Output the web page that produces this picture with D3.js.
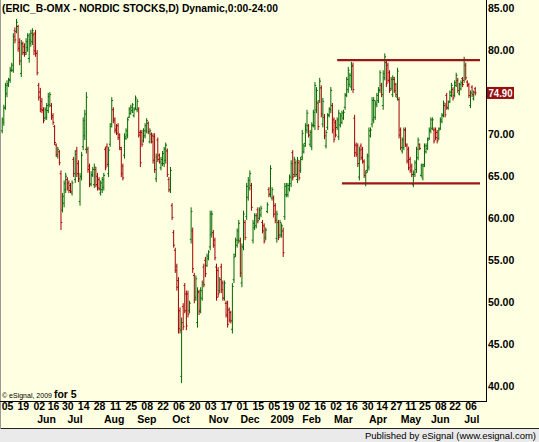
<!DOCTYPE html>
<html><head><meta charset="utf-8">
<script src="https://cdn.jsdelivr.net/npm/d3@7"></script>
<style>
html,body{margin:0;padding:0;background:#fff;}
svg{display:block;}
</style></head><body>
<svg id="chart" width="539" height="442"></svg>
<script>
// ---------------- DATA ----------------
const title = "(ERIC_B-OMX - NORDIC STOCKS,D) Dynamic,0:00-24:00";
// trading-day index of the first bar (05 May 2008 = day 0)
const firstDay = -3;

const open = [
70.4,71.4,73.2,74.8,75.8,76.4,77.6,77.6,82.3,82.2,
82.8,80.9,77.2,80.7,80.4,79.7,80.3,79.0,80.8,81.0,
81.8,82.0,79.6,75.8,75.0,73.9,72.9,71.9,72.0,72.8,
73.5,73.4,72.2,70.9,68.7,67.4,67.9,65.3,61.0,61.8,
63.4,64.6,64.2,63.9,63.0,67.0,64.6,68.0,66.5,62.0,
64.9,68.5,69.8,68.2,68.2,66.2,64.1,65.1,64.0,65.8,
65.0,64.6,63.0,63.4,63.7,68.2,68.5,65.3,68.8,71.2,
72.9,71.8,70.6,71.0,69.9,68.2,66.2,
67.5,69.5,69.9,72.0,72.5,72.8,72.2,73.1,72.9,73.0,
70.2,70.2,69.2,69.8,70.4,71.3,69.1,70.0,69.8,69.7,
64.7,69.3,67.5,66.0,66.5,66.5,66.9,68.0,64.6,63.4,
61.5,58.3,56.2,54.3,52.6,49.0,41.2,49.5,52.0,51.0,
51.0,49.0,57.5,58.5,53.2,50.6,47.6,51.2,49.1,50.5,
54.2,55.0,54.4,55.2,56.6,58.1,58.3,57.4,54.2,53.8,
51.4,54.2,52.3,50.5,49.9,49.9,49.1,48.8,46.8,52.7,
55.7,56.8,57.4,57.3,52.3,56.6,59.5,60.2,62.5,63.6,
63.9,57.4,58.9,59.1,61.0,
60.0,60.4,59.5,59.1,57.7,60.8,63.4,62.9,62.4,62.4,
61.5,57.6,59.5,58.0,58.0,58.5,60.2,62.8,62.8,63.5,
64.1,67.8,65.2,66.6,64.6,66.6,65.7,67.3,67.9,68.9,
70.5,71.0,68.8,68.5,71.1,71.0,72.9,73.7,74.0,75.5,
71.2,72.0,68.6,70.8,72.3,72.9,73.4,71.7,71.4,70.8,
69.7,71.1,71.4,71.9,73.2,74.7,75.3,75.9,75.6,78.1,
71.9,68.7,68.6,64.9,68.6,68.2,66.7,64.1,65.7,66.1,
69.8,71.2,71.7,72.0,73.5,74.0,75.2,75.8,73.4,76.7,
78.5,78.2,
77.3,75.4,74.7,76.5,75.9,74.4,74.1,70.5,68.0,68.4,
70.5,68.6,68.2,67.0,66.2,64.0,65.2,65.8,67.2,68.8,
65.1,64.8,66.4,67.9,68.3,69.5,70.4,70.7,70.5,70.5,
70.2,69.5,70.7,71.5,72.3,73.4,74.6,73.1,73.9,74.6,
75.3,74.6,75.8,76.4,74.8,75.4,76.6,76.4,78.2,76.2,
75.9,73.4,75.6,74.2,75.4
];
const high = [
72.0,73.5,76.1,76.4,76.7,78.0,78.5,82.0,82.7,83.7,
83.0,81.4,81.2,81.0,80.8,81.4,82.0,82.0,82.4,82.6,
82.1,82.4,80.0,76.1,75.5,74.3,73.2,73.2,73.7,74.9,
75.0,73.7,72.5,71.1,68.9,68.5,68.1,65.7,63.0,64.5,
65.4,64.9,64.5,64.2,64.5,67.3,68.1,68.5,66.9,65.4,
67.9,72.0,72.9,75.0,68.5,66.5,65.6,66.1,66.5,66.1,
65.4,64.9,64.5,64.9,65.4,68.5,68.9,68.5,71.3,74.4,
73.2,72.0,71.2,71.3,70.1,68.5,66.5,
70.1,70.7,72.0,73.2,73.5,73.7,73.2,74.6,74.2,73.2,
70.5,70.5,70.7,71.3,71.9,71.5,70.7,70.2,70.1,70.1,
67.7,69.6,67.7,67.3,68.0,68.5,69.0,68.3,64.9,66.1,
61.8,58.6,56.5,54.6,53.0,49.4,48.2,49.9,52.3,51.4,
51.4,50.2,61.3,58.9,53.5,53.2,51.8,51.5,51.8,52.6,
54.6,55.4,55.8,56.2,60.9,60.9,58.6,57.7,54.6,54.2,
53.0,54.6,52.6,52.6,50.2,50.2,49.4,49.0,52.3,55.8,
57.7,58.8,59.8,57.7,57.0,60.9,59.8,64.2,64.9,65.7,
64.2,59.8,60.6,60.6,61.3,
61.3,61.5,59.8,59.4,58.9,61.9,63.7,66.3,63.7,62.7,
61.8,60.9,59.8,59.8,59.4,58.9,64.2,64.2,64.2,65.2,
66.9,68.1,67.3,66.9,67.3,66.9,67.3,70.5,68.9,71.3,
72.9,71.2,70.5,71.4,72.9,76.2,75.6,74.0,76.7,75.8,
74.3,72.4,70.5,72.5,73.2,75.6,73.7,72.0,71.7,72.0,
72.9,72.5,72.8,72.9,74.9,76.8,78.0,77.3,78.6,78.5,
72.3,69.0,68.9,68.5,68.9,68.5,67.0,65.7,67.7,70.8,
70.8,74.4,74.4,74.0,74.9,75.6,77.6,76.1,77.6,79.6,
78.8,78.5,
77.6,76.8,77.0,76.8,76.1,77.9,74.4,70.8,69.6,70.8,
70.8,68.9,68.5,67.3,66.5,65.7,66.9,68.5,69.6,68.9,
66.5,66.5,68.9,68.9,69.6,70.8,72.0,72.0,70.8,70.8,
70.5,70.8,72.0,72.5,74.0,73.7,74.9,74.0,75.2,76.1,
75.6,76.4,77.3,76.7,76.1,76.4,76.8,79.2,78.5,76.4,
76.1,75.2,75.8,75.2,75.6
];
const low = [
70.1,71.0,72.9,74.4,75.6,76.1,77.4,77.3,80.8,82.0,
79.8,78.2,76.8,79.4,79.2,79.4,79.8,78.5,80.4,80.6,
79.4,79.2,77.0,74.0,72.6,72.5,71.3,71.7,71.7,72.5,
73.2,71.7,71.1,68.7,67.3,67.1,66.3,58.6,60.7,61.3,
63.0,63.3,63.0,63.0,62.7,64.9,64.2,64.9,64.3,61.5,
64.5,68.1,69.3,67.7,65.4,63.7,63.8,64.9,63.6,63.7,
63.3,63.3,62.7,63.0,63.3,65.7,66.1,64.9,68.5,70.8,
71.3,70.1,69.9,69.3,68.1,64.9,64.5,
67.1,69.3,69.5,71.9,72.3,72.5,72.0,72.9,72.6,69.6,
66.1,68.5,69.0,69.5,70.1,70.0,68.9,68.9,66.5,65.4,
64.3,66.7,66.5,65.7,66.2,66.1,66.5,64.9,63.1,63.0,
59.8,56.5,53.5,51.4,46.3,46.3,40.4,46.7,48.7,46.7,
48.2,48.7,57.0,53.5,49.9,50.2,47.0,48.5,48.7,50.2,
51.8,53.0,54.2,55.0,56.2,57.7,56.5,55.0,50.2,50.6,
51.1,51.1,50.2,50.2,48.2,47.0,47.6,47.5,46.3,52.3,
55.4,56.5,57.0,53.0,51.8,56.2,57.4,59.8,62.1,63.3,
60.9,57.0,58.6,58.8,59.4,
59.8,60.1,58.2,57.0,57.4,60.6,62.5,62.5,62.1,60.1,
59.4,57.1,57.4,57.7,57.7,55.4,59.8,62.5,62.5,63.2,
63.7,64.5,64.9,64.9,64.2,64.5,65.4,66.9,67.7,68.5,
70.1,69.6,68.5,68.1,70.8,70.5,72.5,70.5,73.7,72.0,
70.8,69.4,68.3,70.5,72.0,72.5,70.1,69.0,69.6,70.5,
69.3,70.8,71.2,71.7,72.9,74.4,74.9,75.6,75.2,74.9,
67.3,67.3,66.1,64.5,66.9,66.5,64.8,63.8,65.4,65.7,
69.6,70.8,71.3,71.7,73.2,73.7,74.9,74.4,72.9,76.4,
75.6,76.1,
74.9,75.2,74.4,74.9,74.4,74.0,69.5,68.1,67.7,68.1,
68.5,66.5,65.7,65.4,64.9,63.7,64.9,65.4,66.9,68.1,
64.9,64.5,66.1,67.7,68.1,69.3,70.1,70.5,68.9,69.3,
68.9,69.3,70.5,71.3,72.0,72.0,72.9,72.9,73.7,74.4,
74.0,74.4,75.6,74.9,74.6,75.2,75.6,76.1,76.4,75.6,
74.3,73.1,74.4,74.0,74.6
];
const close = [
71.7,73.1,75.8,76.0,76.5,77.6,78.2,81.6,81.2,83.3,
80.2,78.7,80.8,79.7,79.5,81.0,81.7,81.2,82.0,82.3,
79.9,79.6,77.3,74.4,73.0,72.8,71.6,72.9,73.4,74.5,
74.7,72.0,71.4,69.0,67.6,68.2,66.6,59.5,62.6,64.1,
65.0,63.6,63.3,63.2,64.2,65.3,67.6,65.3,64.7,65.0,
67.5,71.6,72.4,74.4,65.8,64.0,65.2,65.8,66.1,64.0,
63.6,63.5,64.2,64.6,65.1,66.0,66.4,68.1,70.9,74.0,
71.6,70.4,70.1,69.6,68.4,65.3,64.8,
69.7,70.4,71.7,73.0,73.2,73.5,72.9,74.3,73.9,69.9,
66.6,68.8,70.4,71.0,71.6,70.3,70.4,69.1,66.9,65.8,
67.3,67.0,66.7,67.0,67.7,68.2,68.7,65.2,63.4,65.7,
60.1,56.8,53.8,51.8,46.9,46.7,47.6,47.1,49.0,47.2,
48.6,49.9,60.8,54.0,50.3,52.8,51.3,48.9,51.4,52.3,
52.1,53.4,55.5,56.0,60.5,60.5,56.8,55.3,50.6,51.0,
52.7,51.5,50.5,52.3,48.5,47.4,47.9,47.8,51.9,55.4,
57.4,58.5,59.4,53.5,56.6,60.5,57.7,63.8,64.5,65.3,
61.3,59.4,60.3,60.3,59.7,
61.0,61.2,58.5,57.3,58.6,61.6,62.8,65.9,63.4,60.5,
59.8,60.5,57.7,59.5,59.1,55.9,63.8,63.9,63.9,64.9,
66.5,64.9,67.0,65.2,66.9,64.8,67.0,70.1,68.6,71.0,
72.5,69.9,70.2,71.0,72.6,75.8,75.2,70.9,76.3,72.4,
73.9,69.8,70.2,72.2,73.0,75.2,70.5,69.4,69.9,71.7,
72.5,72.2,72.5,72.6,74.6,76.5,77.6,77.0,78.2,75.3,
67.8,67.6,66.5,68.1,67.2,66.8,65.1,65.4,67.4,70.4,
70.5,74.0,74.0,73.7,74.6,75.3,77.3,74.7,77.2,79.2,
76.0,76.4,
75.2,76.5,76.7,75.2,74.7,77.5,69.9,68.4,69.3,70.5,
68.8,66.8,66.0,65.7,65.2,65.4,66.6,68.2,69.3,68.3,
66.3,66.2,68.6,68.6,69.3,70.5,71.7,71.7,69.2,69.6,
69.2,70.5,71.7,72.2,73.7,72.3,73.2,73.8,75.0,75.8,
74.3,76.1,77.0,75.2,75.9,76.1,75.9,78.9,76.7,75.8,
74.6,74.9,74.7,75.0,74.9
];

// x-axis: day labels every two weeks (trading-day index) and month starts
const dayTicks  = [0,10,20,29,38,48,58,68,78,88,98,108,118,128,138,148,158,168,177,187,197,207,217,227,236,245,254,263,273,282,292];
const dayLabels = ["05","19","02","16","30","14","28","11","25","08","22","06","20","03","17","01","15","05","19","02","16","02","16","30","14","27","11","25","08","22","06"];
const monthTicks  = [20,39,62,83,105,128,148,167,187,207,229,249,268,289];
const monthLabels = ["Jun","Jul","Aug","Sep","Oct","Nov","Dec","2009","Feb","Mar","Apr","May","Jun","Jul"];

// y-axis ticks
const yTicks = [40,45,50,55,60,65,70,75,80,85];
const lastPrice = 74.90;

// horizontal support / resistance lines (price, from day, to day)
const levelPrice = [78.8, 64.15];
const levelFrom  = [208, 211];
const levelTo    = [298, 298];

// ---------------- DRAW ----------------
const W = 539, H = 442;
const plotRight = 486, plotBottom = 401, bandTop = 429;
const FONT = "'Liberation Sans', Arial, Helvetica, sans-serif";
const UP = "#006a00", DOWN = "#a00000", LEVEL = "#981818";

const svg = d3.select("#chart");
const x = d3.scaleLinear().domain([0, 292]).range([7, 470.5]);
const y = d3.scaleLinear().domain([40, 85]).range([386.5, 8]);

svg.append("rect").attr("x",0).attr("y",0).attr("width",W).attr("height",bandTop).attr("fill","#FFFFE1");
svg.append("rect").attr("x",0).attr("y",bandTop).attr("width",W).attr("height",H-bandTop).attr("fill","#EAEAEA");
svg.append("line").attr("x1",0).attr("x2",W).attr("y1",bandTop-0.5).attr("y2",bandTop-0.5).attr("stroke","#222");
svg.append("line").attr("x1",0.5).attr("x2",0.5).attr("y1",0).attr("y2",bandTop).attr("stroke","#9a9a9a");

// OHLC bars
const bars = open.map((o, i) => ({day: firstDay + i, o, h: high[i], l: low[i], c: close[i]}));
const gb = svg.append("g");
const bg = gb.selectAll("g").data(bars).join("g")
  .attr("stroke", d => d.c >= d.o ? UP : DOWN).attr("stroke-width", 1);
bg.append("line").attr("x1", d => x(d.day)).attr("x2", d => x(d.day))
  .attr("y1", d => y(d.h)).attr("y2", d => y(d.l));
bg.append("line").attr("x1", d => x(d.day) - 1.3).attr("x2", d => x(d.day))
  .attr("y1", d => y(d.o)).attr("y2", d => y(d.o));
bg.append("line").attr("x1", d => x(d.day)).attr("x2", d => x(d.day) + 1.3)
  .attr("y1", d => y(d.c)).attr("y2", d => y(d.c));

// level lines
svg.append("g").selectAll("line").data(levelPrice).join("line")
  .attr("x1", (p,i) => x(levelFrom[i])).attr("x2", (p,i) => x(levelTo[i]))
  .attr("y1", p => y(p)).attr("y2", p => y(p))
  .attr("stroke", LEVEL).attr("stroke-width", 2.4);

// frame
svg.append("line").attr("x1",plotRight+0.5).attr("x2",plotRight+0.5).attr("y1",0).attr("y2",plotBottom+1).attr("stroke","#000");
svg.append("line").attr("x1",0).attr("x2",plotRight+1).attr("y1",plotBottom+0.5).attr("y2",plotBottom+0.5).attr("stroke","#000");

// y axis
const ya = svg.append("g").attr("transform", `translate(${plotRight},0)`)
  .call(d3.axisRight(y).tickValues(yTicks.filter(t => Math.abs(y(t) - y(lastPrice)) > 9))
    .tickSize(0).tickPadding(2).tickFormat(d3.format(".2f")));
ya.select(".domain").remove();
ya.attr("font-family", FONT).attr("font-size", 10.5).attr("font-weight", "bold");
ya.selectAll("text").attr("fill", "#000");

// last price marker
const lp = svg.append("g");
lp.append("rect").attr("x", plotRight + 1).attr("y", y(lastPrice) - 6).attr("width", 27).attr("height", 12).attr("fill", "#961010");
lp.append("text").attr("x", plotRight + 2.5).attr("y", y(lastPrice)).attr("dy", "0.36em")
  .attr("font-family", FONT).attr("font-size", 10.5).attr("font-weight", "bold").attr("fill", "#fff")
  .attr("textLength", 24).attr("lengthAdjust", "spacingAndGlyphs")
  .text(d3.format(".2f")(lastPrice));

// x axis: days
const xa = svg.append("g").attr("transform", `translate(0,${plotBottom})`)
  .call(d3.axisBottom(x).tickValues(dayTicks).tickSize(0).tickPadding(2)
    .tickFormat((d, i) => dayLabels[i]));
xa.select(".domain").remove();
xa.attr("font-family", FONT).attr("font-size", 10.5).attr("font-weight", "bold");
xa.selectAll("text").attr("fill", "#000");

// x axis: months
const ma = svg.append("g").attr("transform", `translate(0,${plotBottom})`)
  .call(d3.axisBottom(x).tickValues(monthTicks).tickSize(0).tickPadding(15)
    .tickFormat((d, i) => monthLabels[i]));
ma.select(".domain").remove();
ma.attr("font-family", FONT).attr("font-size", 10.5).attr("font-weight", "bold").attr("text-anchor", "start");
ma.selectAll("text").attr("fill", "#000").attr("dx", -2);

// title
svg.append("text").attr("x", 2).attr("y", 12)
  .attr("font-family", FONT).attr("font-size", 11.5).attr("font-weight", "bold").attr("fill", "#000")
  .attr("textLength", 276).attr("lengthAdjust", "spacingAndGlyphs")
  .text(title);

// copyright + interval
const cp = svg.append("text").attr("x", 2).attr("y", 398).attr("font-family", FONT).attr("fill", "#000");
cp.append("tspan").attr("font-size", 7).text("\u00A9 eSignal, 2009");
cp.append("tspan").attr("font-size", 10.5).attr("font-weight", "bold").attr("dx", 2).text("for 5");

// footer
svg.append("text").attr("x", 536).attr("y", 439).attr("text-anchor", "end")
  .attr("font-family", FONT).attr("font-size", 9.5).attr("fill", "#000")
  .text("Published by eSignal (www.esignal.com)");
</script>
</body></html>
